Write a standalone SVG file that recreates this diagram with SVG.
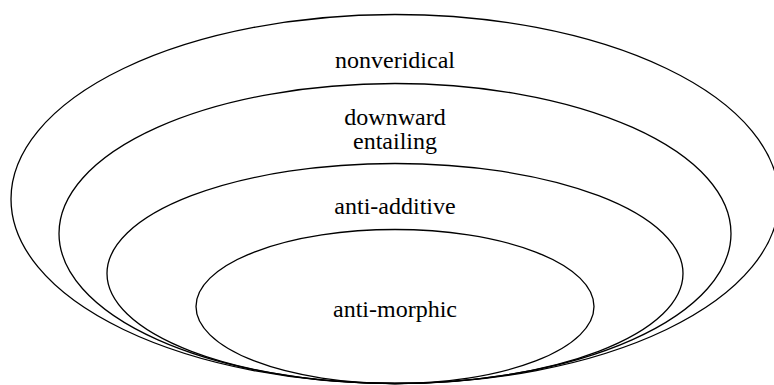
<svg xmlns="http://www.w3.org/2000/svg" width="774" height="385" viewBox="0 0 774 385">
<style>
.e{fill:none;stroke:#000;stroke-width:1.3}
.t{font-family:'Liberation Serif','DejaVu Serif',serif;font-size:24px;fill:#000;text-anchor:middle}
</style>
<rect width="774" height="385" fill="#fff"/>
<g id="nonveridical">
<ellipse class="e" cx="395" cy="199" rx="384" ry="184.5"/>
<text class="t" x="395" y="68">nonveridical</text>
</g>
<g id="downward-entailing">
<ellipse class="e" cx="395" cy="233.5" rx="336" ry="150"/>
<text class="t" x="395" y="125">downward</text>
<text class="t" x="395" y="149">entailing</text>
</g>
<g id="anti-additive">
<ellipse class="e" cx="395" cy="273.5" rx="288" ry="110"/>
<text class="t" x="395" y="214">anti-additive</text>
</g>
<g id="anti-morphic">
<ellipse class="e" cx="395" cy="306.5" rx="199" ry="77"/>
<text class="t" x="395" y="317">anti-morphic</text>
</g>
<g id="connectors"/>
</svg>
